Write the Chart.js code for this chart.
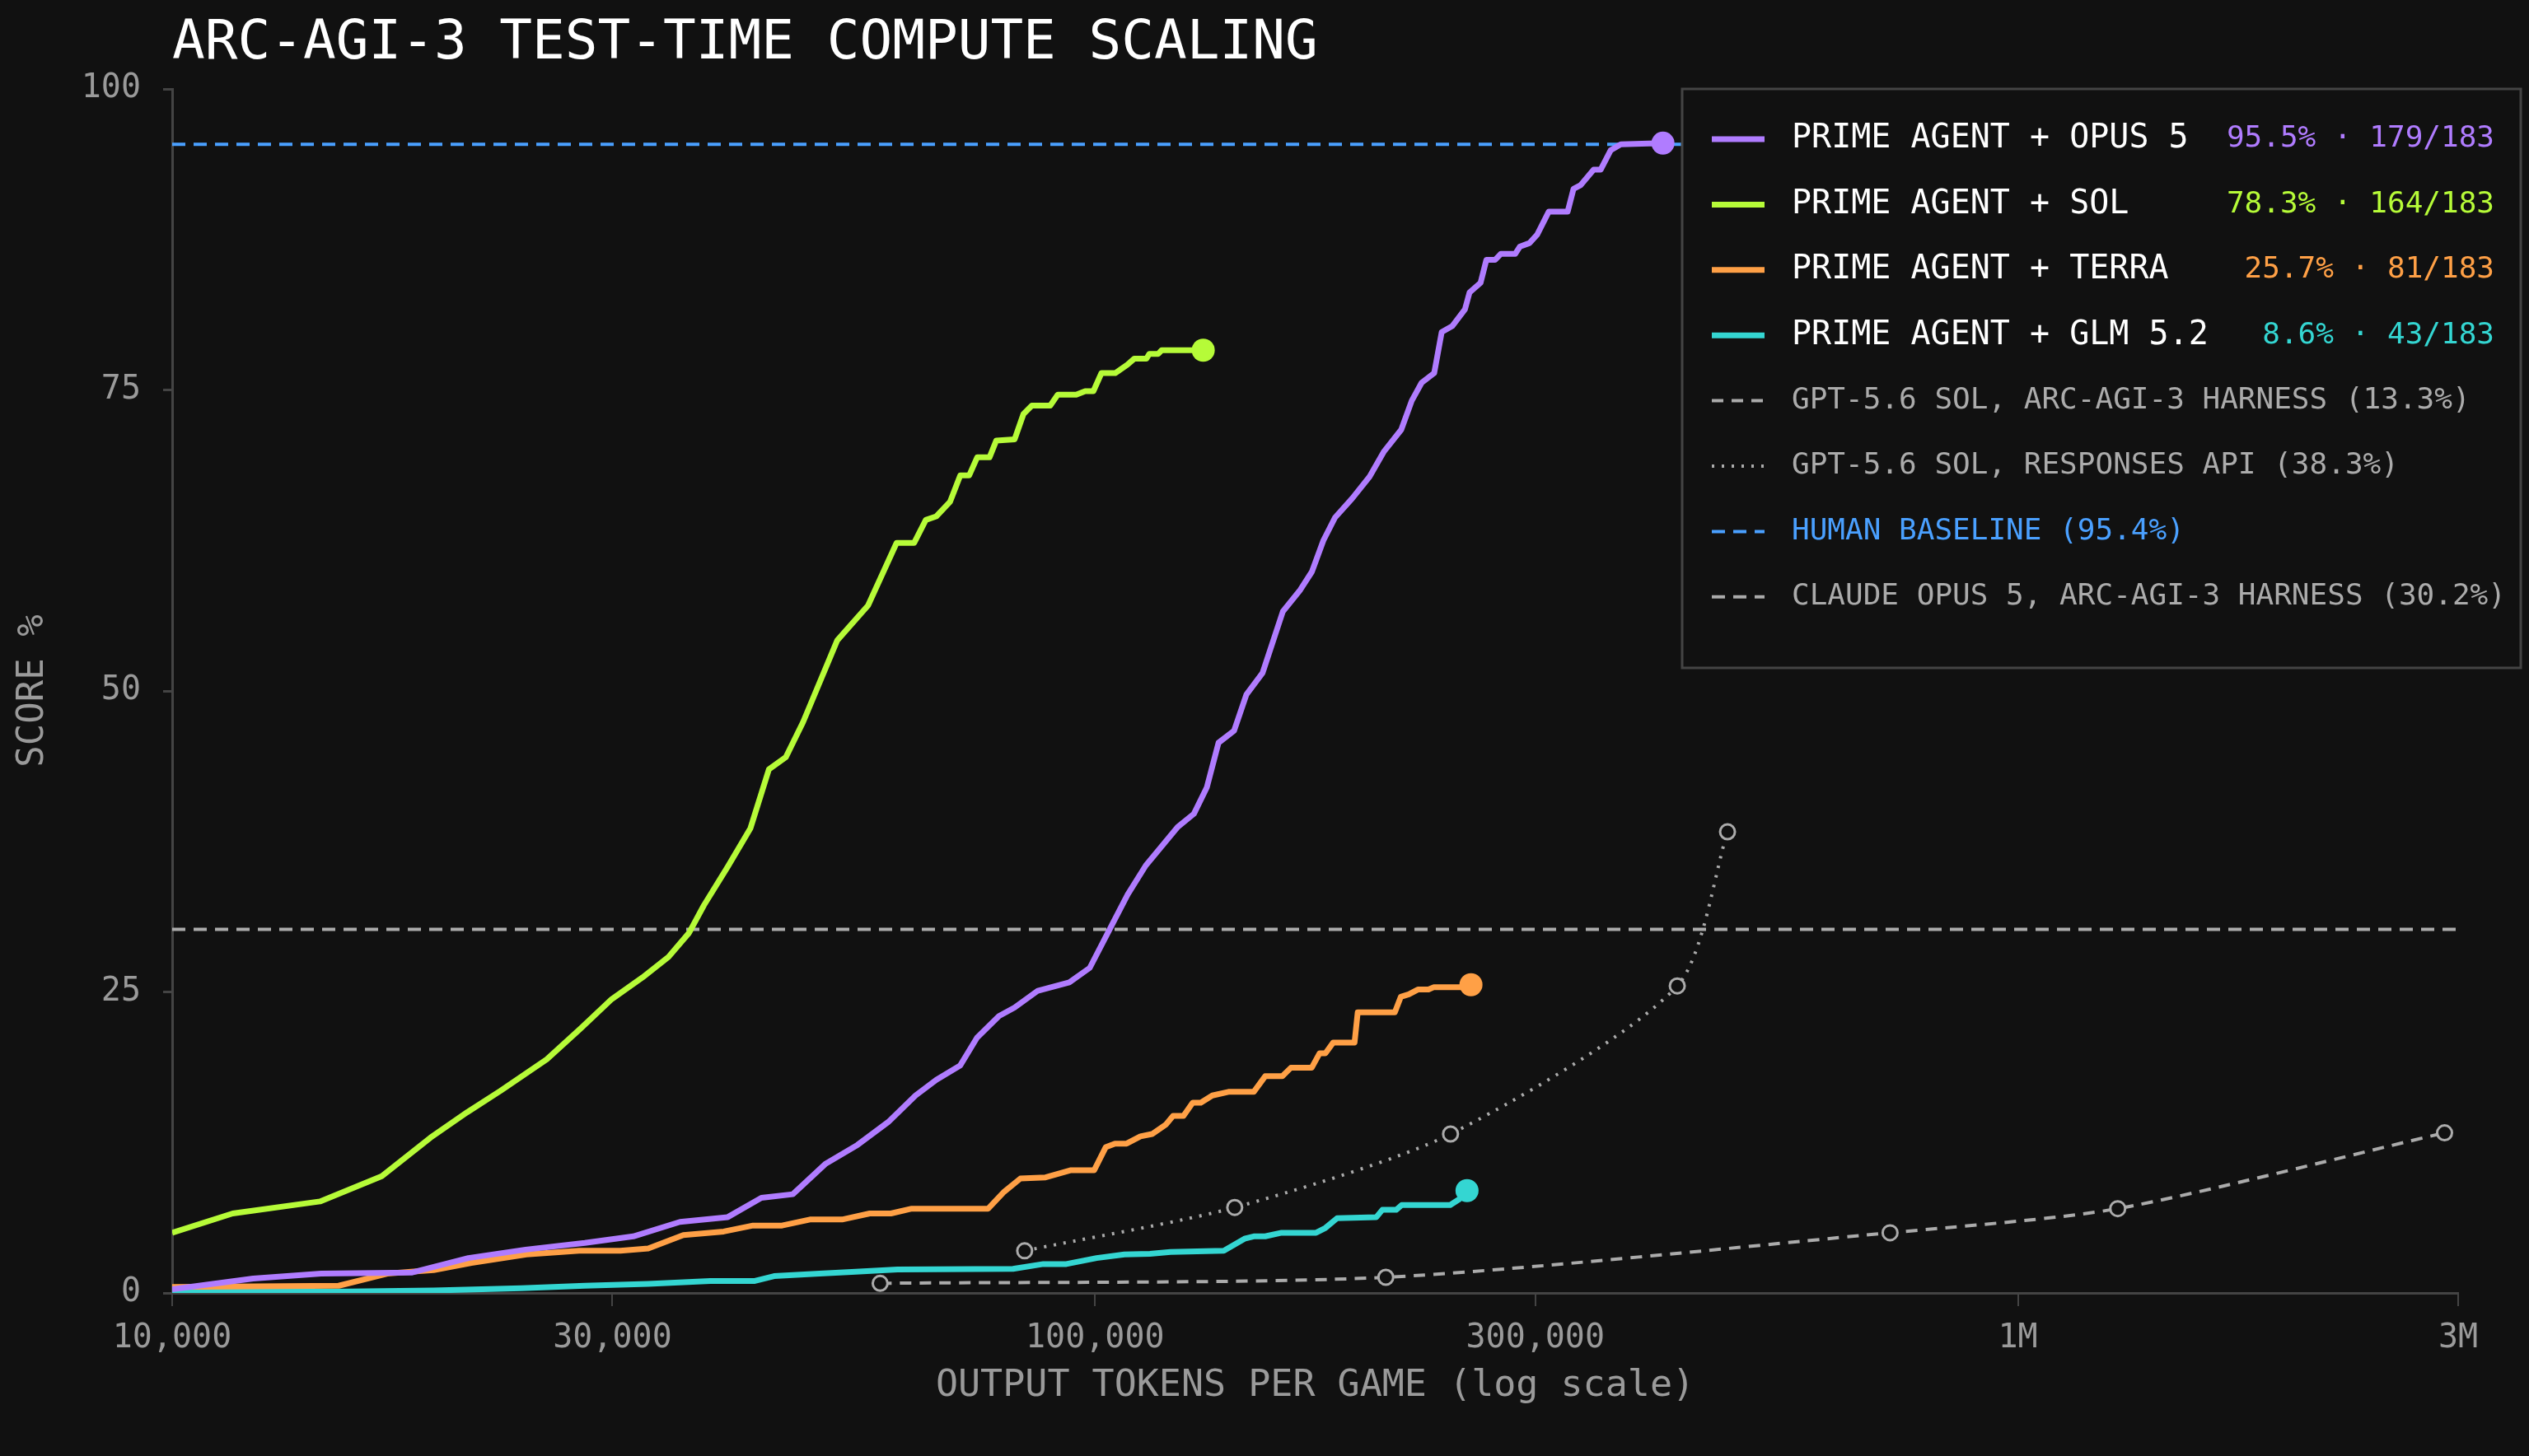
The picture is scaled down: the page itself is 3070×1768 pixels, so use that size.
<!DOCTYPE html>
<html lang="en">
<head>
    <meta charset="UTF-8">
    <title>ARC-AGI-3 Test-Time Compute Scaling</title>
    <script src="https://cdn.jsdelivr.net/npm/chart.js"></script>
    <style>
        html, body { margin: 0; padding: 0; background: #111111; }
        .wrap { width: 3070px; height: 1768px; position: relative; }
    </style>
</head>
<body>
    <div class="wrap">
        <canvas id="scalingChart"></canvas>
    </div>

    <script>
        // ---- data ----
        const xTickValues = [10000, 30000, 100000, 300000, 1000000, 3000000];
        const xTickLabels = ['10,000', '30,000', '100,000', '300,000', '1M', '3M'];
        const yTickValues = [0, 25, 50, 75, 100];

        const opusTokens = [10000, 12240, 14500, 18200, 20940, 24160, 28000, 31600, 35500, 40000, 43500, 47050,
            51000, 55300, 59700, 63900, 67300, 71450, 74500, 78700, 81800, 86700, 93800, 98700, 104200, 108500,
            113500, 122900, 128000, 132200, 136100, 141500, 145900, 151900, 159800, 166900, 171800, 176800, 182000,
            190000, 198400, 205700, 214700, 220400, 225900, 233100, 237500, 243800, 251700, 254600, 261700, 265500,
            271300, 275300, 285300, 288600, 295700, 301400, 310200, 325200, 330000, 335800, 347000, 353200, 362000,
            371300, 412500];
        const opusScores = [0.3, 1.2, 1.6, 1.7, 2.9, 3.6, 4.15, 4.7, 5.9, 6.3, 7.9, 8.2,
            10.7, 12.3, 14.2, 16.4, 17.7, 18.9, 21.2, 23.0, 23.7, 25.1, 25.8, 27.0, 30.5, 33.1,
            35.5, 38.7, 39.8, 42.0, 45.7, 46.7, 49.7, 51.5, 56.6, 58.4, 59.9, 62.5, 64.4,
            66.0, 67.8, 69.9, 71.7, 74.1, 75.6, 76.4, 79.8, 80.3, 81.7, 83.1, 83.9, 85.8,
            85.8, 86.3, 86.3, 86.9, 87.2, 87.9, 89.8, 89.8, 91.7, 92.0, 93.3, 93.3, 94.9,
            95.4, 95.5];

        const solTokens = [10000, 11630, 14460, 16870, 19050, 20870, 22700, 25460, 27740, 29940, 32330, 34500,
            36310, 37690, 40000, 42330, 44330, 46240, 48260, 52560, 56760, 60950, 63690, 65560, 67300, 69640,
            71450, 73050, 74530, 76860, 78170, 81830, 83650, 85420, 89430, 91120, 95430, 97580, 99600, 101620,
            105170, 108400, 110300, 113700, 114500, 117100, 118100, 131000];
        const solScores = [5.0, 6.6, 7.6, 9.7, 12.9, 15.0, 16.8, 19.4, 22.0, 24.4, 26.2, 27.9,
            29.9, 32.2, 35.4, 38.6, 43.5, 44.5, 47.4, 54.2, 57.1, 62.3, 62.3, 64.2, 64.5, 65.7,
            67.9, 67.9, 69.4, 69.4, 70.8, 70.9, 73.0, 73.7, 73.7, 74.6, 74.6, 74.9, 74.9, 76.4,
            76.4, 77.1, 77.6, 77.6, 78.0, 78.0, 78.3, 78.3];

        const terraTokens = [10000, 15150, 17100, 18400, 19200, 21100, 24200, 27600, 30600, 32800, 35800, 39600,
            42600, 45800, 49100, 53200, 57000, 60100, 63300, 76600, 79700, 83000, 88400, 94200, 99800, 102700,
            105100, 108200, 112000, 115300, 119400, 121500, 124700, 127600, 130200, 134000, 139500, 148600, 152900,
            159600, 163000, 171700, 175100, 177700, 181200, 191100, 192600, 211300, 214500, 218800, 223800, 229800,
            233000, 250000, 255500];
        const terraScores = [0.5, 0.6, 1.6, 1.8, 1.9, 2.5, 3.2, 3.5, 3.5, 3.7, 4.8, 5.1,
            5.6, 5.6, 6.1, 6.1, 6.6, 6.6, 7.0, 7.0, 8.4, 9.5, 9.6, 10.2, 10.2, 12.1,
            12.4, 12.4, 13.0, 13.2, 14.0, 14.7, 14.7, 15.8, 15.8, 16.4, 16.7, 16.7, 18.0,
            18.0, 18.7, 18.7, 19.9, 19.9, 20.8, 20.8, 23.3, 23.3, 24.6, 24.8, 25.2, 25.2,
            25.4, 25.4, 25.6];

        const glmTokens = [10000, 14900, 19200, 23900, 28000, 32800, 38300, 42800, 44900, 50300, 54500, 61100,
            81500, 87900, 93100, 100400, 107600, 114700, 120700, 137900, 145200, 148600, 152900, 159300, 173600,
            177700, 182900, 201800, 204800, 212000, 214900, 242600, 248300, 253000];
        const glmScores = [0.1, 0.1, 0.2, 0.4, 0.6, 0.75, 1.0, 1.0, 1.4, 1.6, 1.75, 1.95,
            2.0, 2.4, 2.4, 2.9, 3.2, 3.25, 3.4, 3.5, 4.5, 4.7, 4.7, 5.0, 5.0,
            5.4, 6.2, 6.3, 6.9, 6.9, 7.3, 7.3, 7.8, 8.5];

        const harnessTokens = [58500, 206600, 727000, 1283000, 2900000];
        const harnessScores = [0.8, 1.3, 5.0, 7.0, 13.3];

        const responsesTokens = [83900, 141700, 242800, 427500, 484600];
        const responsesScores = [3.5, 7.1, 13.2, 25.5, 38.3];

        const humanBaseline = 95.4;
        const claudeHarness = 30.2;

        const seriesNames = ['PRIME AGENT + OPUS 5', 'PRIME AGENT + SOL', 'PRIME AGENT + TERRA', 'PRIME AGENT + GLM 5.2'];
        const seriesStats = ['95.5% · 179/183', '78.3% · 164/183', '25.7% · 81/183', '8.6% · 43/183'];
        const refNames = ['GPT-5.6 SOL, ARC-AGI-3 HARNESS (13.3%)', 'GPT-5.6 SOL, RESPONSES API (38.3%)',
            'HUMAN BASELINE (95.4%)', 'CLAUDE OPUS 5, ARC-AGI-3 HARNESS (30.2%)'];

        // ---- styling ----
        const BG = '#111111';
        const PURPLE = '#b07cff';
        const LIME = '#b6fb38';
        const ORANGE = '#ffa046';
        const TEAL = '#34d6d2';
        const BLUE = '#4aa0ff';
        const GRAY = '#ababab';
        const AXIS = '#444444';
        const TICK_TEXT = '#9a9a9a';
        const MONO = "'DejaVu Sans Mono', 'Liberation Mono', monospace";

        Chart.defaults.font.family = MONO;

        const toPoints = (xs, ys) => xs.map((x, i) => ({ x: x, y: ys[i] }));
        const flatLine = (value) => [{ x: xTickValues[0], y: value }, { x: xTickValues[xTickValues.length - 1], y: value }];

        const agentLine = (label, xs, ys, color) => ({
            label: label,
            data: toPoints(xs, ys),
            borderColor: color,
            backgroundColor: color,
            borderWidth: 7,
            tension: 0,
            borderJoinStyle: 'round',
            pointRadius: ctx => ctx.dataIndex === xs.length - 1 ? 14 : 0,
            pointHoverRadius: 0,
            pointBorderWidth: 0,
            pointBackgroundColor: color
        });

        const refLine = (label, xs, ys, dash) => ({
            label: label,
            data: toPoints(xs, ys),
            borderColor: GRAY,
            borderWidth: 4,
            borderDash: dash,
            tension: 0.25,
            pointRadius: 9,
            pointBorderWidth: 3,
            pointBorderColor: GRAY,
            pointBackgroundColor: BG
        });

        const datasets = [
            agentLine(seriesNames[0], opusTokens, opusScores, PURPLE),
            agentLine(seriesNames[1], solTokens, solScores, LIME),
            agentLine(seriesNames[2], terraTokens, terraScores, ORANGE),
            agentLine(seriesNames[3], glmTokens, glmScores, TEAL),
            refLine(refNames[0], harnessTokens, harnessScores, [14, 10]),
            refLine(refNames[1], responsesTokens, responsesScores, [3, 9]),
            {
                label: refNames[2],
                data: flatLine(humanBaseline),
                borderColor: BLUE,
                borderWidth: 4,
                borderDash: [16, 10],
                pointRadius: 0
            },
            {
                label: refNames[3],
                data: flatLine(claudeHarness),
                borderColor: GRAY,
                borderWidth: 4,
                borderDash: [16, 10],
                pointRadius: 0
            }
        ];

        // title drawn at the left edge of the plot area
        const titlePlugin = {
            id: 'leftTitle',
            afterDraw(chart) {
                const ctx = chart.ctx;
                ctx.save();
                ctx.fillStyle = '#ffffff';
                ctx.font = `66px ${MONO}`;
                ctx.textBaseline = 'alphabetic';
                ctx.textAlign = 'left';
                ctx.fillText('ARC-AGI-3 TEST-TIME COMPUTE SCALING', chart.chartArea.left, 71);
                ctx.restore();
            }
        };

        // boxed legend, top right, covering the plot
        const legendPlugin = {
            id: 'boxLegend',
            afterDraw(chart) {
                const ctx = chart.ctx;
                const left = 2042, top = chart.chartArea.top, right = 3060, bottom = 811;
                const rowY = i => top + 61 + i * 79.4;
                const sampleX0 = 2078, sampleX1 = 2142, textX = 2175, statsX = 3028;

                ctx.save();
                ctx.fillStyle = BG;
                ctx.fillRect(left, top, right - left, bottom - top);
                ctx.strokeStyle = AXIS;
                ctx.lineWidth = 3;
                ctx.strokeRect(left, top, right - left, bottom - top);

                const colors = [PURPLE, LIME, ORANGE, TEAL];
                ctx.textBaseline = 'middle';
                colors.forEach((c, i) => {
                    const y = rowY(i);
                    ctx.setLineDash([]);
                    ctx.strokeStyle = c;
                    ctx.lineWidth = 7;
                    ctx.beginPath();
                    ctx.moveTo(sampleX0, y);
                    ctx.lineTo(sampleX1, y);
                    ctx.stroke();

                    ctx.font = `40px ${MONO}`;
                    ctx.fillStyle = '#ffffff';
                    ctx.textAlign = 'left';
                    ctx.fillText(seriesNames[i], textX, y);

                    ctx.font = `36px ${MONO}`;
                    ctx.fillStyle = c;
                    ctx.textAlign = 'right';
                    ctx.fillText(seriesStats[i], statsX, y);
                });

                const refStyles = [
                    { color: GRAY, dash: [14, 10], text: GRAY },
                    { color: GRAY, dash: [3, 9], text: GRAY },
                    { color: BLUE, dash: [16, 10], text: BLUE },
                    { color: GRAY, dash: [16, 10], text: GRAY }
                ];
                refStyles.forEach((s, j) => {
                    const y = rowY(4 + j);
                    ctx.setLineDash(s.dash);
                    ctx.strokeStyle = s.color;
                    ctx.lineWidth = 4;
                    ctx.beginPath();
                    ctx.moveTo(sampleX0, y);
                    ctx.lineTo(sampleX1, y);
                    ctx.stroke();

                    ctx.setLineDash([]);
                    ctx.font = `36px ${MONO}`;
                    ctx.fillStyle = s.text;
                    ctx.textAlign = 'left';
                    ctx.fillText(refNames[j], textX, y);
                });
                ctx.restore();
            }
        };

        const ctx = document.getElementById('scalingChart').getContext('2d');
        new Chart(ctx, {
            type: 'line',
            data: { datasets: datasets },
            options: {
                responsive: true,
                maintainAspectRatio: false,
                animation: false,
                devicePixelRatio: 1,
                layout: { padding: { top: 108, right: 86, bottom: 0, left: 0 } },
                plugins: {
                    legend: { display: false },
                    title: { display: false },
                    tooltip: { enabled: false }
                },
                scales: {
                    x: {
                        type: 'logarithmic',
                        min: xTickValues[0],
                        max: xTickValues[xTickValues.length - 1],
                        afterBuildTicks: scale => {
                            scale.ticks = xTickValues.map(v => ({ value: v }));
                        },
                        afterFit: scale => { scale.height = 198; },
                        ticks: {
                            autoSkip: false,
                            maxRotation: 0,
                            padding: 16,
                            color: TICK_TEXT,
                            font: { size: 40 },
                            callback: value => xTickLabels[xTickValues.indexOf(value)]
                        },
                        grid: {
                            drawOnChartArea: false,
                            drawTicks: true,
                            tickLength: 16,
                            color: AXIS,
                            lineWidth: 2
                        },
                        border: { display: true, color: AXIS, width: 3 },
                        title: {
                            display: true,
                            text: 'OUTPUT TOKENS PER GAME (log scale)',
                            color: TICK_TEXT,
                            font: { size: 45 },
                            padding: { top: 0, bottom: 58 }
                        }
                    },
                    y: {
                        min: 0,
                        max: 100,
                        afterBuildTicks: scale => {
                            scale.ticks = yTickValues.map(v => ({ value: v }));
                        },
                        afterFit: scale => { scale.width = 209; },
                        ticks: {
                            padding: 27,
                            color: TICK_TEXT,
                            font: { size: 40 }
                        },
                        grid: {
                            drawOnChartArea: false,
                            drawTicks: true,
                            tickLength: 11,
                            color: AXIS,
                            lineWidth: 3
                        },
                        border: { display: true, color: AXIS, width: 3 },
                        title: {
                            display: true,
                            text: 'SCORE %',
                            color: TICK_TEXT,
                            font: { size: 44 },
                            padding: { top: 14, bottom: 0 }
                        }
                    }
                }
            },
            plugins: [titlePlugin, legendPlugin]
        });
    </script>
</body>
</html>
